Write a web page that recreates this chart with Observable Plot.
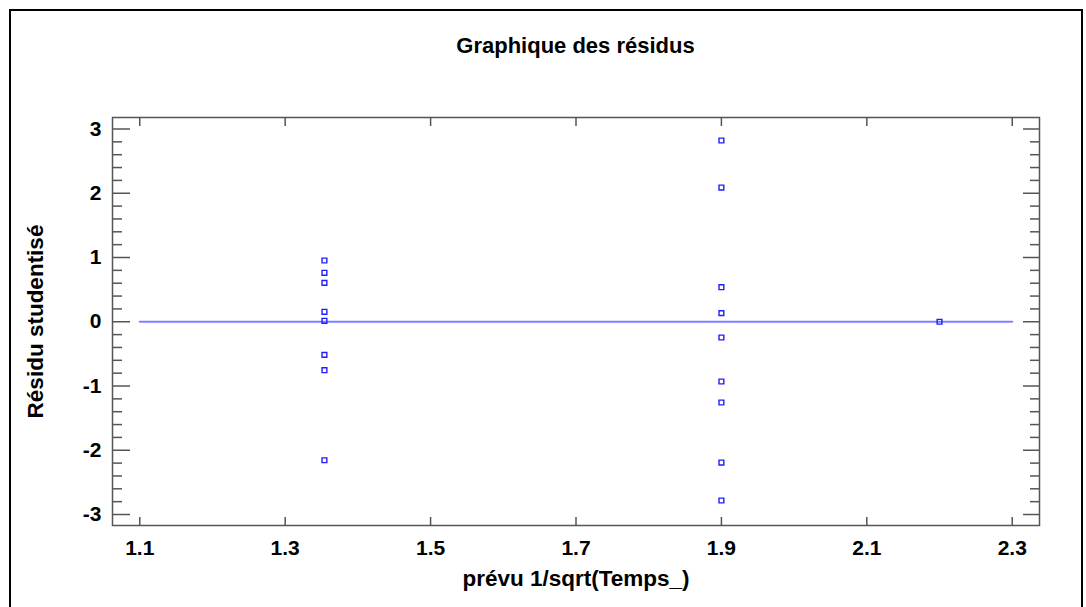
<!DOCTYPE html>
<html><head><meta charset="utf-8">
<script src="https://cdn.jsdelivr.net/npm/d3@7"></script>
<script src="https://cdn.jsdelivr.net/npm/@observablehq/plot@0.6"></script>
<style>
html,body{margin:0;padding:0;background:#fff;overflow:hidden;}
#box{position:absolute;left:9px;top:9px;width:1070px;height:620px;border:2px solid #000;border-bottom:none;font-family:"Liberation Sans",Arial,sans-serif;}
#title{height:70px;line-height:70px;padding-left:101px;padding-right:42px;text-align:center;font-weight:bold;font-size:22px;color:#000;}
#chart svg{display:block}
</style></head><body>
<div id="box"><div id="title">Graphique des résidus</div><div id="chart"></div></div>
<script>
// predicted values (x) and studentized residuals (y)
const predicted = [1.354,1.354,1.354,1.354,1.354,1.354,1.354,1.354,
                   1.9,1.9,1.9,1.9,1.9,1.9,1.9,1.9,1.9,
                   2.2];
const residuals = [0.953,0.762,0.606,0.155,0.015,-0.515,-0.754,-2.155,
                   2.821,2.089,0.538,0.134,-0.245,-0.930,-1.257,-2.191,-2.782,
                   0.0];
const zeroLineX = [1.1, 2.3];
const zeroLineY = [0, 0];
const xTicks = [1.1,1.3,1.5,1.7,1.9,2.1,2.3];
const yMajor = [-3,-2,-1,0,1,2,3];
const yMinor = [-2.8,-2.6,-2.4,-2.2,-1.8,-1.6,-1.4,-1.2,-0.8,-0.6,-0.4,-0.2,0.2,0.4,0.6,0.8,1.2,1.4,1.6,1.8,2.2,2.4,2.6,2.8];

const pts = predicted.map((x,i)=>({x, y: residuals[i]}));
const line = zeroLineX.map((x,i)=>({x, y: zeroLineY[i]}));
const tickCol = "#555";
const none = () => "";

const plot = Plot.plot({
  width: 1070, height: 526,
  marginLeft: 101, marginRight: 42, marginTop: 36, marginBottom: 82,
  style: {fontFamily: "'Liberation Sans', Arial, sans-serif", fontWeight: "bold", fontSize: "21px", color: "#000", background: "#fff", overflow: "visible"},
  x: {domain: [1.0625, 2.3375]},
  y: {domain: [-3.171, 3.179]},
  marks: [
    Plot.axisY({anchor: "left", ticks: yMinor, tickSize: -10, tickFormat: none, color: tickCol, strokeWidth: 1.5, label: null}),
    Plot.axisY({anchor: "left", ticks: yMajor, tickSize: -18, tickFormat: none, color: tickCol, strokeWidth: 1.5, label: null}),
    Plot.axisY({anchor: "right", ticks: yMinor, tickSize: -10, tickFormat: none, color: tickCol, strokeWidth: 1.5, label: null}),
    Plot.axisY({anchor: "right", ticks: yMajor, tickSize: -17, tickFormat: none, color: tickCol, strokeWidth: 1.5, label: null}),
    Plot.axisX({anchor: "top", ticks: xTicks, tickSize: -8, tickFormat: none, color: tickCol, strokeWidth: 1.5, label: null}),
    Plot.axisX({anchor: "bottom", ticks: xTicks, tickSize: -8, tickFormat: none, color: tickCol, strokeWidth: 1.5, label: null}),
    Plot.axisY({anchor: "left", ticks: yMajor, tickSize: 0, tickPadding: 11, tickFormat: d => String(d), fill: "#000", fontSize: 21, label: null}),
    Plot.axisX({anchor: "bottom", ticks: xTicks, tickSize: 0, tickPadding: 15, tickFormat: d3.format(".1f"), fill: "#000", fontSize: 21, label: null}),
    Plot.axisY({anchor: "left", ticks: [], tickSize: 0, label: "Résidu studentisé", labelAnchor: "center", labelOffset: 85, labelArrow: "none", fill: "#000", fontSize: 22.5}),
    Plot.axisX({anchor: "bottom", ticks: [], tickSize: 0, label: "prévu 1/sqrt(Temps_)", labelAnchor: "center", labelOffset: 60, labelArrow: "none", fill: "#000", fontSize: 22.5}),
    Plot.frame({stroke: tickCol, strokeWidth: 1.5}),
    Plot.line(line, {x: "x", y: "y", stroke: "#7f7fff", strokeWidth: 2}),
    Plot.dot(pts, {x: "x", y: "y", symbol: "square", r: 2.7, stroke: "#1f1fff", strokeWidth: 1.4, fill: "none"})
  ]
});
document.getElementById("chart").appendChild(plot);
</script>
</body></html>
